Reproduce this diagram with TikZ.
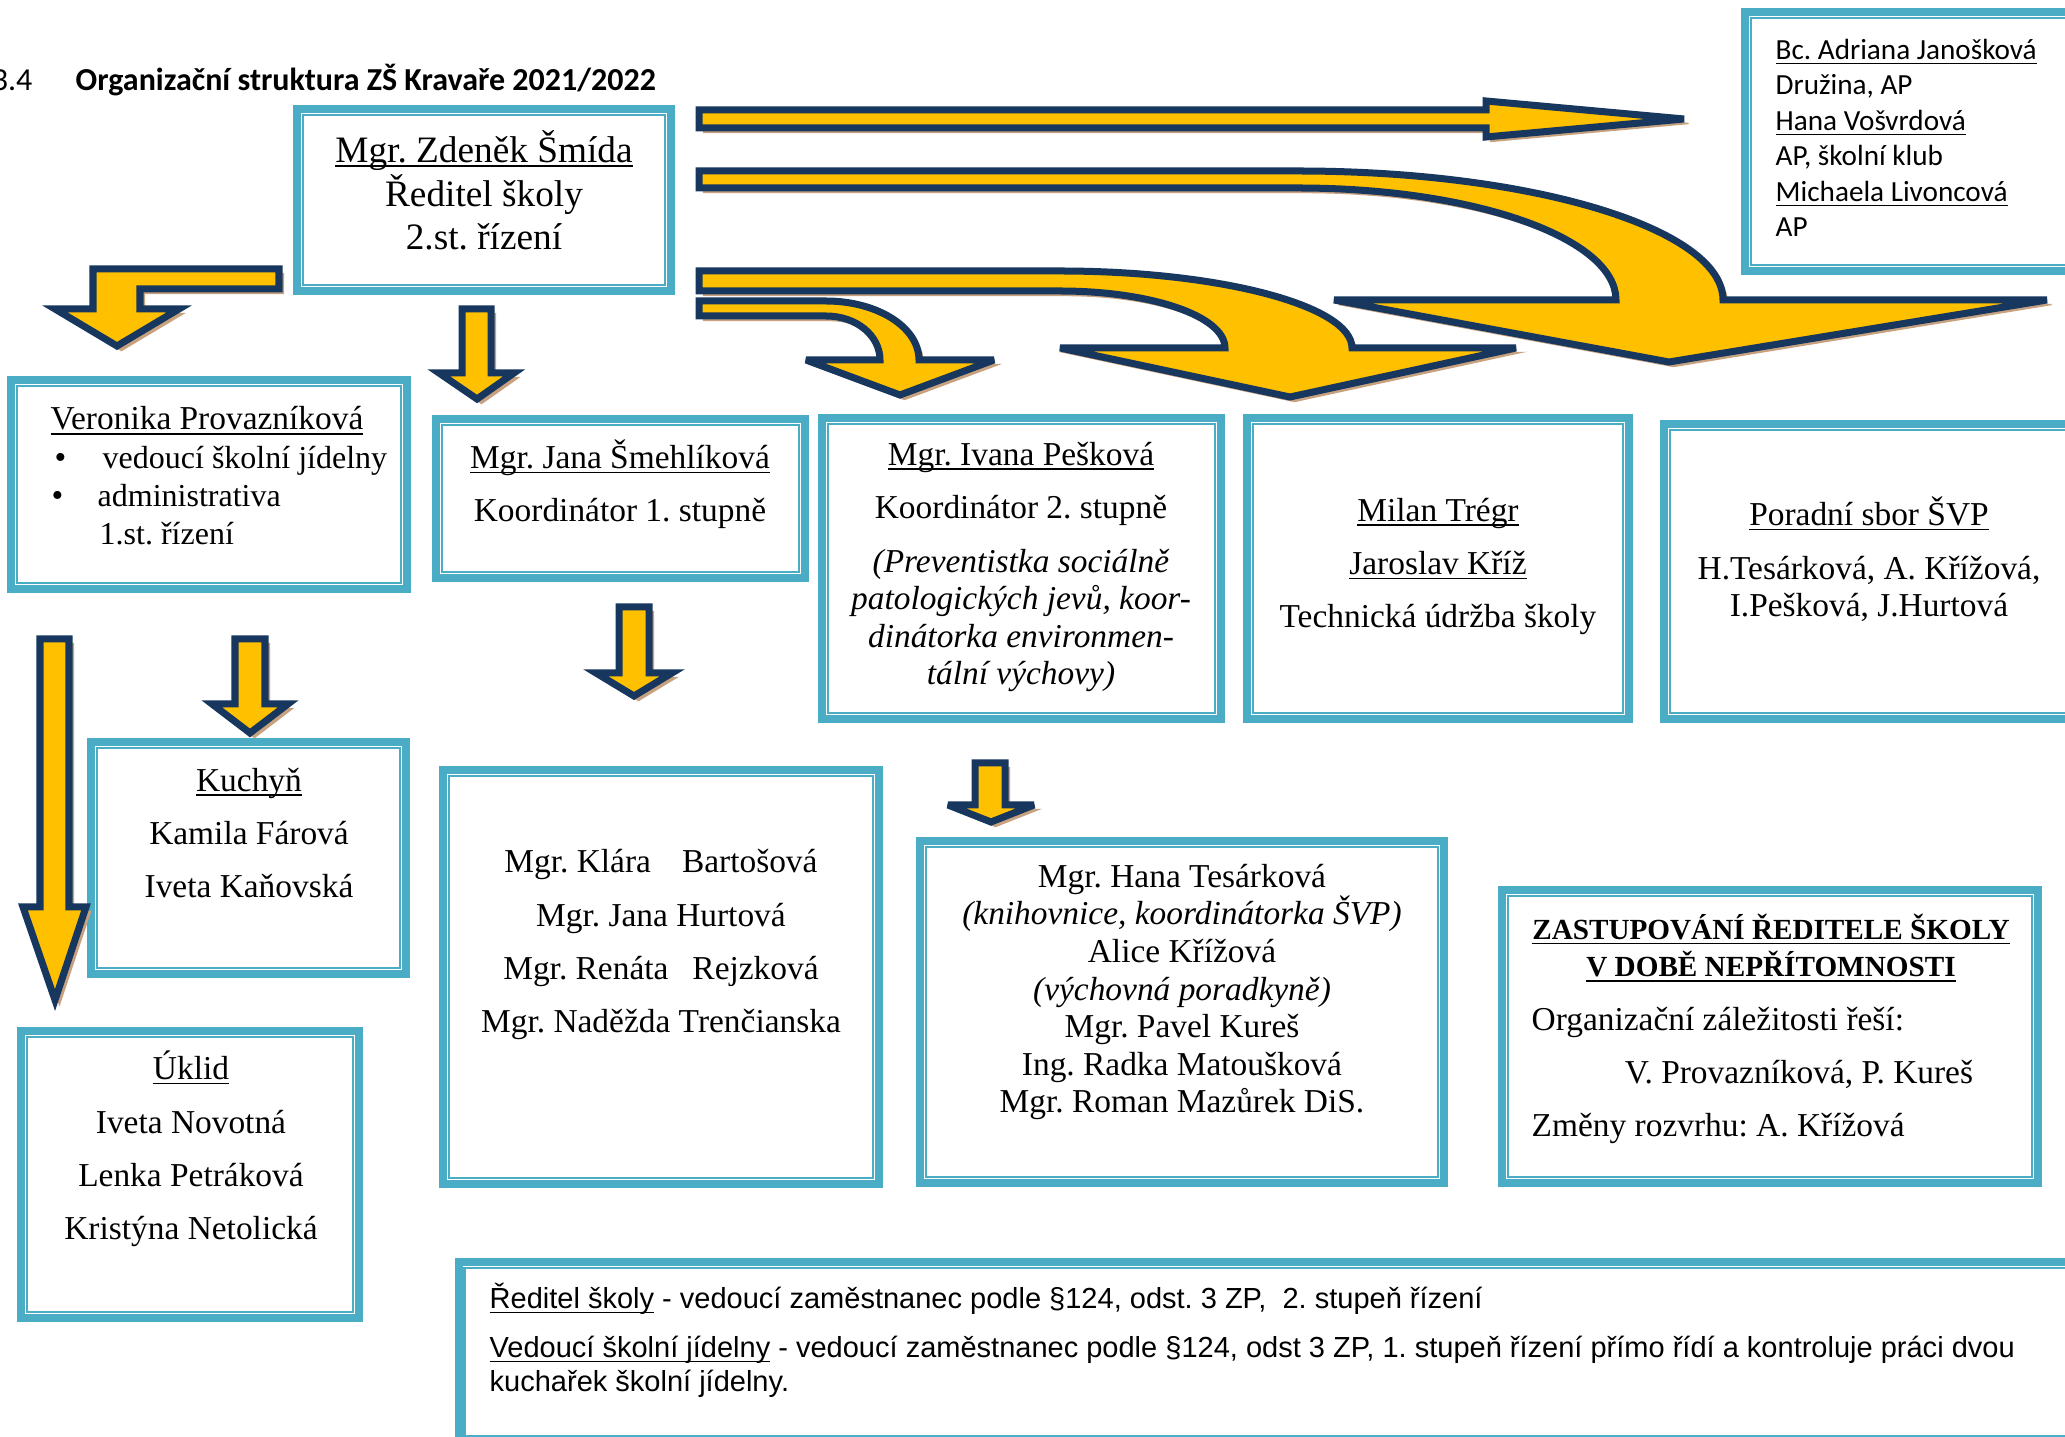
\documentclass[tikz,border=0pt]{standalone}
\usepackage{fontspec}
\setmainfont{Liberation Serif}
\newfontfamily\calibri{Carlito}
\newfontfamily\arial{Liberation Sans}
\usepackage{tikz}
\frenchspacing
\newsavebox\podbox
\newcommand{\podtrh}[1]{\sbox\podbox{#1}\rlap{\rule[-1.3pt]{\wd\podbox}{0.4pt}}\usebox\podbox}
\definecolor{boxteal}{HTML}{4BACC6}
\definecolor{arrowyellow}{HTML}{FFC000}
\definecolor{arrownavy}{HTML}{17375E}
\definecolor{arrowtan}{HTML}{C8A27F}
\tikzset{
  frame/.style={draw=boxteal, line width=0.8mm, inner sep=0pt},
  innerline/.style={draw=boxteal, line width=0.25mm},
  blockarrow/.style={fill=arrowyellow, draw=arrownavy, line width=0.7mm, line join=miter, miter limit=4,
    preaction={fill=arrowtan, draw=arrowtan, transform canvas={shift={(0.45mm,-0.45mm)}}}},
  boxtext/.style={align=center, inner sep=0pt, anchor=base, font=\fontsize{9.5}{10.7}\selectfont}
}

\begin{document}
\begin{tikzpicture}[x=0.01cm,y=-0.01cm]
    \useasboundingbox (0,0) rectangle (2065,1437);
    \clip (0,0) rectangle (2065,1437);
    \fill[white] (0,0) rectangle (2065,1437);

    % nadpis
    \node[font=\calibri\fontsize{9.1}{11}\selectfont, anchor=base east, inner sep=0pt] (cislo) at (33,91) {3.4};
    \node[font=\calibri\bfseries\fontsize{9.1}{11}\selectfont, anchor=base west, inner sep=0pt] (nadpis) at (75,91)
         {Organizační struktura ZŠ Kravaře 2021/2022};

    \begin{scope}[every node/.style={frame}]
      \node[minimum width=37.4mm, minimum height=18.2mm] (reditel) at (484,200) {};
      \node[minimum width=32.7mm, minimum height=25.9mm] (asistenti) at (1908.5,141.5) {};
      \node[minimum width=39.6mm, minimum height=20.9mm] (jidelna) at (209,484.5) {};
      \node[minimum width=36.9mm, minimum height=15.9mm] (stupen1) at (620.5,498.5) {};
      \node[minimum width=39.9mm, minimum height=30.1mm] (stupen2) at (1021.5,568.5) {};
      \node[minimum width=38.2mm, minimum height=30.1mm] (udrzba) at (1438,568.5) {};
      \node[minimum width=41.7mm, minimum height=29.5mm] (poradni) at (1872.5,571.5) {};
      \node[minimum width=31.5mm, minimum height=23.2mm] (kuchyn) at (248.5,858) {};
      \node[minimum width=43.6mm, minimum height=41.4mm] (ucitele1) at (661,977) {};
      \node[minimum width=52.4mm, minimum height=34.2mm] (ucitele2) at (1182,1012) {};
      \node[minimum width=53.6mm, minimum height=29.3mm] (zastup) at (1770,1036.5) {};
      \node[minimum width=33.8mm, minimum height=28.7mm] (uklid) at (190,1174.5) {};
      \node[minimum width=162.2mm, minimum height=18.0mm] (pozn) at (1270,1352) {};
    \end{scope}
    \foreach \b in {reditel,asistenti,jidelna,stupen1,stupen2,udrzba,poradni,kuchyn,ucitele1,ucitele2,zastup,uklid,pozn}
      \draw[innerline] ([shift={(1mm,-1mm)}]\b.north west) rectangle ([shift={(-1mm,1mm)}]\b.south east);

    % texty (kotva = uctaret posledniho radku)
    \begin{scope}[every node/.style={boxtext}]
      \node[font=\fontsize{10.6}{12.5}\selectfont] (reditelT) at (484,250)
           {\podtrh{Mgr. Zdeněk Šmída}\\Ředitel školy\\2.st. řízení};
      \node[font=\calibri\fontsize{8.3}{10.1}\selectfont, align=left, anchor=base west] (asistentiT) at (1775,237)
           {\podtrh{Bc. Adriana Janošková}\\Družina, AP\\\podtrh{Hana Vošvrdová}\\AP, školní klub\\\podtrh{Michaela Livoncová}\\AP};
      \node[font=\fontsize{9.5}{10.9}\selectfont, align=left, anchor=base west] (jidelnaT) at (50,545)
           {\podtrh{Veronika Provazníková}\\
            \hspace*{0.4mm}\makebox[4.8mm][l]{\textbullet}{\fontsize{9.1}{10.9}\selectfont vedoucí školní jídelny}\\
            \hspace*{0.1mm}\makebox[4.6mm][l]{\textbullet}{\fontsize{9.1}{10.9}\selectfont administrativa}\\
            \hspace*{4.9mm}{\fontsize{9.1}{10.9}\selectfont 1.st. řízení}};
      \node (stupen1T) at (620,522) {\podtrh{Mgr. Jana Šmehlíková}\\[4.5pt]Koordinátor 1. stupně};
      \node (stupen2T) at (1021,685)
           {\podtrh{Mgr. Ivana Pešková}\\[4.5pt]Koordinátor 2. stupně\\[4.5pt]
            \textit{(Preventistka sociálně}\\\textit{patologických jevů, koor-}\\
            \textit{dinátorka environmen-}\\\textit{tální výchovy)}};
      \node (udrzbaT) at (1438,628)
           {\podtrh{Milan Trégr}\\[4.5pt]\podtrh{Jaroslav Kříž}\\[4.5pt]Technická údržba školy};
      \node (poradniT) at (1869,617)
           {\podtrh{Poradní sbor ŠVP}\\[4.5pt]H.Tesárková, A. Křížová,\\I.Pešková, J.Hurtová};
      \node (kuchynT) at (249,898) {\podtrh{Kuchyň}\\[4.5pt]Kamila Fárová\\[4.5pt]Iveta Kaňovská};
      \node (ucitele1T) at (661,1033)
           {Mgr. Klára\hspace{3.1mm}Bartošová\\[4.5pt]Mgr. Jana Hurtová\\[4.5pt]
            Mgr. Renáta\hspace{2.4mm}Rejzková\\[4.5pt]Mgr. Naděžda Trenčianska};
      \node (ucitele2T) at (1182,1113)
           {Mgr. Hana Tesárková\\\textit{(knihovnice, koordinátorka ŠVP)}\\Alice Křížová\\
            \textit{(výchovná poradkyně)}\\Mgr. Pavel Kureš\\Ing. Radka Matoušková\\Mgr. Roman Mazůrek DiS.};
      \node[font=\bfseries\fontsize{8.3}{10.7}\selectfont] (zastupH) at (1771,977)
           {\podtrh{ZASTUPOVÁNÍ ŘEDITELE ŠKOLY}\\\podtrh{V DOBĚ NEPŘÍTOMNOSTI}};
      \node[align=left, anchor=base west] (zastupT) at (1531,1137)
           {Organizační záležitosti řeší:\\[4.5pt]\hspace*{9.3mm}V. Provazníková, P. Kureš\\[4.5pt]
            Změny rozvrhu: A. Křížová};
      \node (uklidT) at (191,1240)
           {\podtrh{Úklid}\\[4.5pt]Iveta Novotná\\[4.5pt]Lenka Petráková\\[4.5pt]Kristýna Netolická};
      \node[font=\arial\fontsize{8.25}{9.7}\selectfont, align=left, anchor=base west] (poznT) at (489,1392)
           {\podtrh{Ředitel školy} - vedoucí zaměstnanec podle §124, odst. 3 ZP,\ \ 2. stupeň řízení\\[4.3pt]
            \podtrh{Vedoucí školní jídelny} - vedoucí zaměstnanec podle §124, odst 3 ZP, 1. stupeň řízení přímo řídí a kontroluje práci dvou\\
            kuchařek školní jídelny.};
    \end{scope}

    % sipky od reditele
    \draw[blockarrow] (699,110) -- (1486,110) -- (1486,101) -- (1684,119) -- (1486,137) -- (1486,128) -- (699,128) -- cycle;
    \draw[blockarrow] (699,171) -- (1298,171) .. controls (1533,171) and (1723,229) .. (1723,300) -- (2047,300)
        -- (1669,362) -- (1334,300) -- (1616,300) .. controls (1616,238) and (1474,188) .. (1298,188) -- (699,188) -- cycle;
    \draw[blockarrow] (699,271) -- (1060,271) .. controls (1221,271) and (1352,306) .. (1352,348) -- (1516,348)
        -- (1290,397) -- (1060,348) -- (1225,348) .. controls (1225,316) and (1151,291) .. (1060,291) -- (699,291) -- cycle;
    \draw[blockarrow] (699,301) -- (826,301) .. controls (877,301) and (919,327) .. (919,360) -- (994,360)
        -- (900,395) -- (806,360) -- (880,360) .. controls (880,336) and (857,316) .. (826,316) -- (699,316) -- cycle;
    \draw[blockarrow] (279,269) -- (93,269) -- (93,309) -- (55,309) -- (117,346) -- (179,309) -- (140,309) -- (140,289) -- (279,289) -- cycle;
    \draw[blockarrow] (462,309) -- (491,309) -- (491,373) -- (514,373) -- (477,399) -- (439,373) -- (462,373) -- cycle;
    % sipky dolu
    \draw[blockarrow] (40,639) -- (69,639) -- (69,907) -- (86,907) -- (55,1000) -- (23,907) -- (40,907) -- cycle;
    \draw[blockarrow] (235,639) -- (265,639) -- (265,704) -- (288,704) -- (250,733) -- (212,704) -- (235,704) -- cycle;
    \draw[blockarrow] (619,607) -- (649,607) -- (649,673) -- (672,673) -- (634,696) -- (596,673) -- (619,673) -- cycle;
    \draw[blockarrow] (975,763) -- (1005,763) -- (1005,805) -- (1034,805) -- (991,822) -- (948,805) -- (975,805) -- cycle;
\end{tikzpicture}
\end{document}
